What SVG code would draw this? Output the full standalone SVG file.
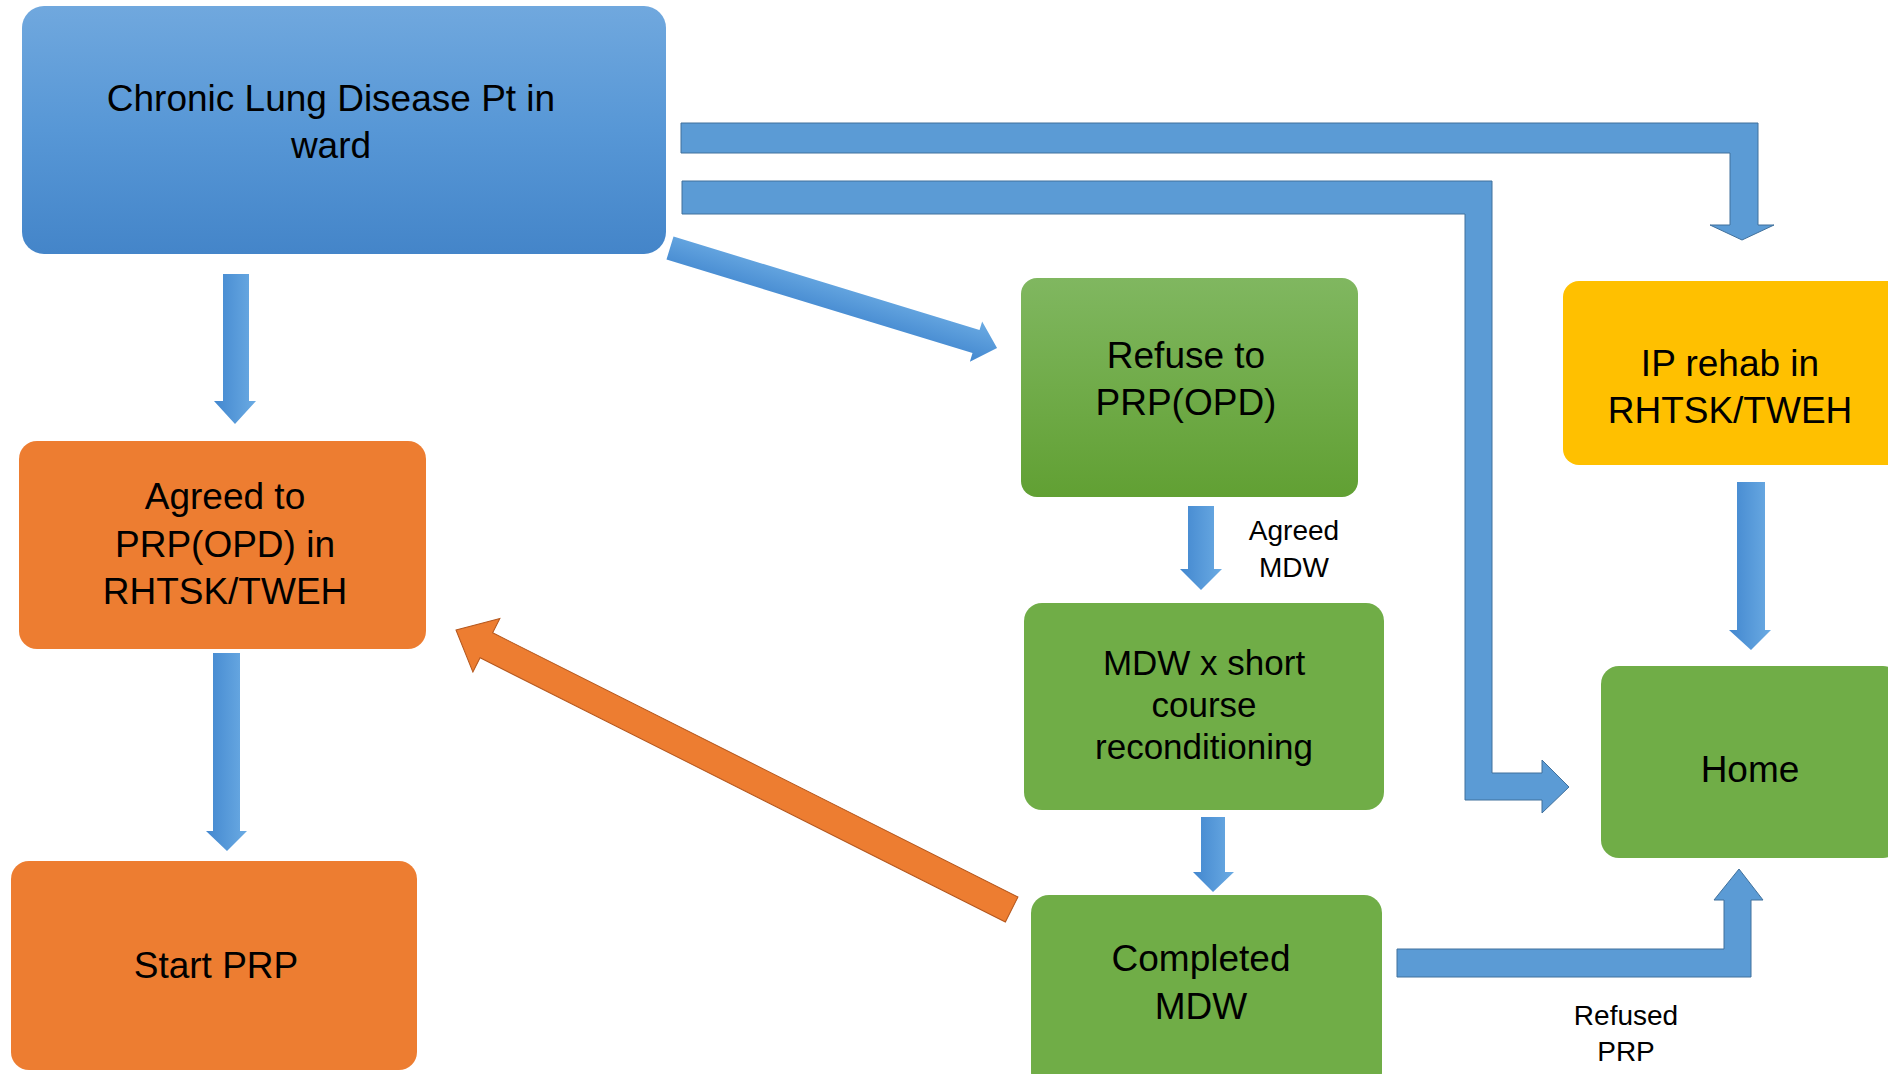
<svg xmlns="http://www.w3.org/2000/svg" width="1888" height="1074" viewBox="0 0 1888 1074">
<defs>
<linearGradient id="gBlueBox" x1="0" y1="0" x2="0" y2="1">
<stop offset="0" stop-color="#70A8DE"/><stop offset="0.5" stop-color="#5797D6"/><stop offset="1" stop-color="#4485C9"/>
</linearGradient>
<linearGradient id="gGreen" x1="0" y1="0" x2="0" y2="1">
<stop offset="0" stop-color="#80B760"/><stop offset="1" stop-color="#61A033"/>
</linearGradient>
<linearGradient id="gShaft" x1="0" y1="0" x2="1" y2="0">
<stop offset="0" stop-color="#4287CF"/><stop offset="1" stop-color="#6BABE3"/>
</linearGradient>
<linearGradient id="gDiag" x1="0" y1="0" x2="0" y2="1">
<stop offset="0" stop-color="#6BABE3"/><stop offset="1" stop-color="#4287CF"/>
</linearGradient>
<style>
.node text{font-family:"Liberation Sans",Arial,sans-serif;font-size:37px;fill:#000;text-anchor:middle}
.lbl{font-family:"Liberation Sans",Arial,sans-serif;font-size:28px;fill:#000;text-anchor:middle}
.elbow{fill:#5B9BD5;stroke:#41719C;stroke-width:1}
.down{fill:url(#gShaft)}
</style>
</defs>
<g id="connectors">
<path class="elbow" d="M681,123 H1758 V225 H1774 L1742,240 L1710,225 H1730 V153 H681 Z"/>
<path class="elbow" d="M682,181 H1492 V773 H1542 V760 L1569,787 L1542,813 V800 H1465 V214 H682 Z"/>
<path class="elbow" d="M1397,949 H1724 V900 H1714 L1739,869 L1763,900 H1751 V977 H1397 Z"/>
<path class="down" d="M223,274 H249 V401 H256 L235,424 L214,401 H223 Z"/>
<path class="down" d="M213,653 H240 V831 H247 L227,851 L206,831 H213 Z"/>
<path class="down" d="M1188,506 H1214 V569 H1222 L1201,590 L1180,569 H1188 Z"/>
<path class="down" d="M1201,817 H1225 V872 H1234 L1213,892 L1193,872 H1201 Z"/>
<path class="down" d="M1737,482 H1765 V630 H1771 L1751,650 L1729,630 H1737 Z"/>
<path fill="url(#gDiag)" d="M0,-12 H320 V-21 L342,0 L320,21 V12 H0 Z" transform="translate(670,248) rotate(17)"/>
<path fill="#ED7D31" stroke="#B4561C" stroke-width="1" d="M0,0 L34,-30 L34,-14 L622,-14 L622,14 L34,14 L34,30 Z" transform="translate(456,630) rotate(26.7)"/>
<text class="lbl" x="1294" y="540">Agreed</text>
<text class="lbl" x="1294" y="577">MDW</text>
<text class="lbl" x="1626" y="1025">Refused</text>
<text class="lbl" x="1626" y="1061">PRP</text>
</g>
<g id="node-ward" class="node">
<rect x="22" y="6" width="644" height="248" rx="22" fill="url(#gBlueBox)"/>
<text x="331" y="111">Chronic Lung Disease Pt in</text>
<text x="331" y="158">ward</text>
</g>
<g id="node-agreed" class="node">
<rect x="19" y="441" width="407" height="208" rx="18" fill="#ED7D31"/>
<text x="225" y="509">Agreed to</text>
<text x="225" y="557">PRP(OPD) in</text>
<text x="225" y="604">RHTSK/TWEH</text>
</g>
<g id="node-start" class="node">
<rect x="11" y="861" width="406" height="209" rx="18" fill="#ED7D31"/>
<text x="216" y="978">Start PRP</text>
</g>
<g id="node-refuse" class="node">
<rect x="1021" y="278" width="337" height="219" rx="16" fill="url(#gGreen)"/>
<text x="1186" y="368">Refuse to</text>
<text x="1186" y="415">PRP(OPD)</text>
</g>
<g id="node-ip" class="node">
<rect x="1563" y="281" width="345" height="184" rx="16" fill="#FFC000"/>
<text x="1730" y="376">IP rehab in</text>
<text x="1730" y="423">RHTSK/TWEH</text>
</g>
<g id="node-mdw" class="node">
<rect x="1024" y="603" width="360" height="207" rx="18" fill="#70AD47"/>
<text x="1204" y="675" style="font-size:35px">MDW x short</text>
<text x="1204" y="717" style="font-size:35px">course</text>
<text x="1204" y="759" style="font-size:35px">reconditioning</text>
</g>
<g id="node-completed" class="node">
<rect x="1031" y="895" width="351" height="195" rx="18" fill="#70AD47"/>
<text x="1201" y="971">Completed</text>
<text x="1201" y="1019">MDW</text>
</g>
<g id="node-home" class="node">
<rect x="1601" y="666" width="300" height="192" rx="18" fill="#70AD47"/>
<text x="1750" y="782">Home</text>
</g>
</svg>
